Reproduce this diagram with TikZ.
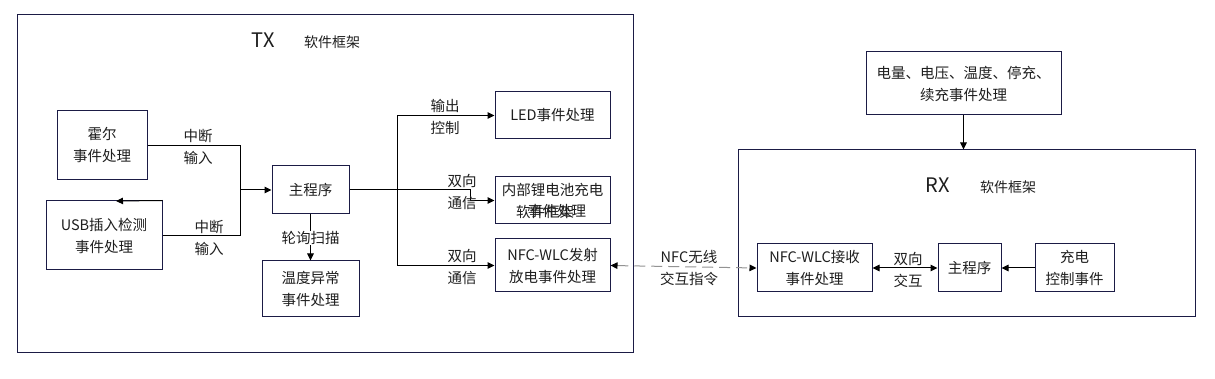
\documentclass[tikz,border=0pt]{standalone}
\usepackage{fontspec}
\setmainfont{Noto Sans CJK SC}
\usetikzlibrary{arrows.meta}
\definecolor{bx}{HTML}{1B1B45}
\definecolor{tc}{HTML}{1E1E1E}
\begin{document}
\begin{tikzpicture}[x=1pt,y=-1pt,
  box/.style={draw=bx, line width=1pt, text=tc, align=center, inner sep=0pt, font=\fontsize{14.5}{22}\selectfont},
  frame/.style={draw=bx, line width=1pt, inner sep=0pt},
  lbl/.style={text=tc, align=center, inner sep=1pt, font=\fontsize{14.5}{22}\selectfont},
  ttl/.style={text=tc, inner sep=0pt, font=\fontsize{20}{24}\selectfont},
  sub/.style={text=tc, inner sep=0pt, font=\fontsize{14}{18}\selectfont},
  line/.style={line width=1pt, black},
  conn/.style={line width=1pt, black, -{Triangle[length=7pt,width=6.5pt]}},
  dconn/.style={line width=1pt, black, {Triangle[length=7pt,width=6.5pt]}-{Triangle[length=7pt,width=6.5pt]}},
]
\useasboundingbox (0,0) rectangle (1215,379);
\fill[white] (0,0) rectangle (1215,379);

% frames
\node[frame, minimum width=616, minimum height=337] (txf) at (325,183.5) {};
\node[frame, minimum width=457, minimum height=166] (rxf) at (966.5,233) {};

% titles
\node[ttl] (txt) at (263,40) {TX};
\node[sub] (txs) at (332,42) {软件框架};
\node[ttl] (rxt) at (938,185) {RX};
\node[sub] (rxs) at (1008,187) {软件框架};

% TX boxes
\node[box, minimum width=90, minimum height=69] (hall) at (102,145.5) {霍尔\\事件处理};
\node[box, minimum width=116, minimum height=69] (usb) at (104,235.5) {USB插入检测\\事件处理};
\node[box, minimum width=77, minimum height=48] (main) at (310.5,190) {主程序};
\node[box, minimum width=97, minimum height=55] (temp) at (310.5,288.5) {温度异常\\事件处理};
\node[box, minimum width=115, minimum height=47] (led) at (552.5,115.5) {LED事件处理};
\node[box, minimum width=115, minimum height=47] (bat) at (552.5,200.5) {内部锂电池充电\\\phantom{软件框架}};
\node[lbl, inner sep=0pt] (batA) at (545,211.5) {软件框架};
\node[lbl, inner sep=0pt] (batB) at (557,211.5) {事件处理};
\node[box, minimum width=115, minimum height=53] (nfctx) at (552.5,265.5) {NFC-WLC发射\\放电事件处理};

% RX boxes
\node[box, minimum width=195, minimum height=63] (top) at (963.5,83.5) {电量、电压、温度、停充、\\续充事件处理};
\node[box, minimum width=115, minimum height=48] (rxnfc) at (814.5,268) {NFC-WLC接收\\事件处理};
\node[box, minimum width=63, minimum height=48] (rxmain) at (969.5,268) {主程序};
\node[box, minimum width=79, minimum height=48] (chg) at (1074.5,268) {充电\\控制事件};

% TX connectors
\coordinate (j1) at (240,190);
\coordinate (j2) at (397,190);
\coordinate (jb) at (470,190);
\coordinate (stray) at (116,201);
\draw[line] (hall.east) -| (j1);
\draw[line] (usb.east) -| (j1);
\draw[conn] (j1) -- (main.west);
\draw[conn] (usb.north east) -- (stray);
\draw[line] (main.east) -- (j2);
\draw[conn] (j2) |- (led.west);
\draw[conn] (j2) |- (nfctx.west);
\draw[conn] (j2) -- (jb) |- (bat.west);
\draw[conn] (main.south) -- (temp.north);
\node[lbl, fill=white, inner sep=0pt] (lpoll) at (310.5,238) {轮询扫描};

\node[lbl] (l1) at (198,147) {中断\\输入};
\node[lbl] (l2) at (209,238) {中断\\输入};
\node[lbl] (l3) at (445,116.5) {输出\\控制};
\node[lbl] (l4) at (462,191.5) {双向\\通信};
\node[lbl] (l5) at (462,266.5) {双向\\通信};

% NFC link
\draw[line width=1pt, draw=gray!85, dash pattern=on 11pt off 6pt,
      {Triangle[length=7pt,width=6.5pt,fill=black,color=black]}-{Triangle[length=7pt,width=6.5pt,fill=black,color=black]}]
      (nfctx.east) -- (rxnfc.west);
\node[lbl] (l6) at (689,268.5) {NFC无线\\交互指令};

% RX connectors
\draw[conn] (top.south) -- (top.south |- rxf.north);
\draw[dconn] (rxnfc.east) -- (rxmain.west);
\draw[conn] (chg.west) -- (rxmain.east);
\node[lbl] (l7) at (908,269.5) {双向\\交互};
\end{tikzpicture}
\end{document}
